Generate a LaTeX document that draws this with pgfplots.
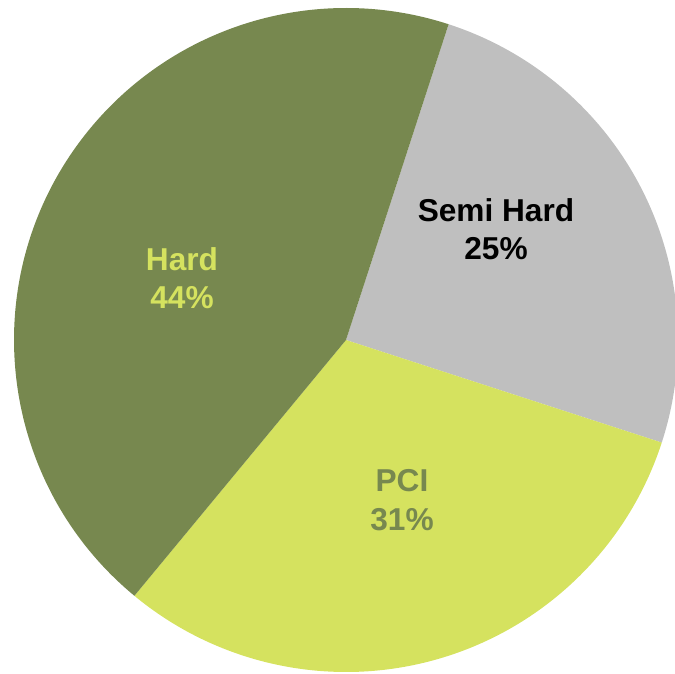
\documentclass[border=0pt]{standalone}
\usepackage{pgfplots}
\pgfplotsset{compat=1.18}
\usepackage{pgfplotstable}
\usepackage{fontspec}
\setmainfont{Liberation Sans}

\definecolor{hardcol}{HTML}{77884F}
\definecolor{pcicol}{HTML}{D5E25F}
\definecolor{semicol}{HTML}{BFBFBF}

% share of each slice, in per cent
\pgfplotstableread{
label value
Semi 25
PCI 31
Hard 44
}\piedata

\begin{document}
\begin{tikzpicture}
\pgfplotstablegetelem{0}{value}\of\piedata \let\vsemi\pgfplotsretval
\pgfplotstablegetelem{1}{value}\of\piedata \let\vpci\pgfplotsretval
\pgfplotstablegetelem{2}{value}\of\piedata \let\vhard\pgfplotsretval
\pgfmathsetmacro\aa{72}
\pgfmathsetmacro\ab{\aa-3.6*\vsemi}
\pgfmathsetmacro\ac{\ab-3.6*\vpci}
\pgfmathsetmacro\ad{\ac-3.6*\vhard}
\def\R{6.64cm}
\begin{axis}[
    hide axis, scale only axis,
    width=13.5cm, height=13.46cm,
    xmin=-346, xmax=329, ymin=-333, ymax=340,
    clip=true,
  ]
  \fill[semicol] (axis cs:0,0) -- ++(\aa:\R) arc[start angle=\aa, end angle=\ab, radius=\R] -- cycle;
  \fill[pcicol]  (axis cs:0,0) -- ++(\ab:\R) arc[start angle=\ab, end angle=\ac, radius=\R] -- cycle;
  \fill[hardcol] (axis cs:0,0) -- ++(\ac:\R) arc[start angle=\ac, end angle=\ad, radius=\R] -- cycle;

  \node[align=center, font=\fontsize{18}{21.8}\selectfont\bfseries, text=black]
    at (axis cs:150,111) {Semi Hard\\\vsemi\%};
  \node[align=center, font=\fontsize{18}{21.8}\selectfont\bfseries, text=pcicol]
    at (axis cs:-164,62) {Hard\\\vhard\%};
  \node[align=center, font=\fontsize{18}{21.8}\selectfont\bfseries, text=hardcol]
    at (axis cs:56,-160) {PCI\\\vpci\%};
\end{axis}
\pgfresetboundingbox
\path (current axis.south west) rectangle (current axis.north east);
\end{tikzpicture}
\end{document}
